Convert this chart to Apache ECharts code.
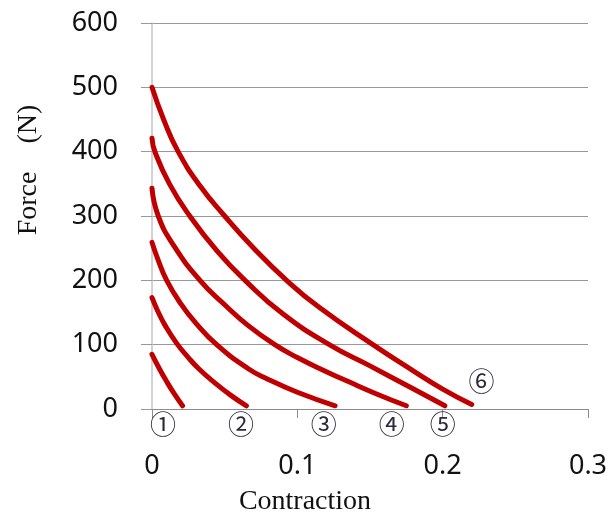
<!DOCTYPE html>
<html>
<head>
<meta charset="utf-8">
<script src="https://cdn.jsdelivr.net/npm/echarts@6/dist/echarts.min.js"></script>
<style>
  html, body { margin: 0; padding: 0; background: #fff; }
  #main { width: 616px; height: 515px; }
</style>
</head>
<body>
<div id="main"></div>
<script>
// contraction / force, one pair per curve
const c1 = [0, 0.005, 0.010, 0.0155, 0.021]
const f1 = [85, 63, 43, 23, 5]
const c2 = [0, 0.004, 0.009, 0.017, 0.025, 0.032, 0.043, 0.055, 0.065]
const f2 = [173, 152, 130, 102, 80, 63, 41, 20, 5]
const c3 = [0, 0.004, 0.0101, 0.02, 0.03, 0.0445, 0.066, 0.08, 0.1, 0.126]
const f3 = [259, 233, 200, 163, 134, 100, 63, 46, 26, 5]
const c4 = [0, 0.0043, 0.015, 0.033, 0.05, 0.066, 0.0845, 0.1, 0.12, 0.1347, 0.155, 0.175]
const f4 = [343, 300, 254, 200, 162, 130, 100, 80, 58, 43, 23, 5]
const c5 = [0, 0.002, 0.012, 0.026, 0.045, 0.064, 0.09, 0.122, 0.15, 0.18, 0.2015]
const f5 = [421, 400, 350, 300, 245, 200, 148, 100, 67, 31, 5]
const c6 = [0, 0.008, 0.018, 0.033, 0.05, 0.07, 0.0926, 0.115, 0.152, 0.18, 0.2, 0.22]
const f6 = [500, 450, 400, 347, 300, 250, 200, 158, 100, 59, 31, 7]

const curveNames = ['①', '②', '③', '④', '⑤', '⑥']
// where each circled number sits, in data units
const tagX = [0.0076, 0.0612, 0.1182, 0.165, 0.2, 0.2268]
const tagY = [-23, -23, -23, -23, -23, 43.5]

const xTicks = [0, 0.1, 0.2, 0.3]

const curves = [[c1, f1], [c2, f2], [c3, f3], [c4, f4], [c5, f5], [c6, f6]]

const chart = echarts.init(document.getElementById('main'))

const option = {
  animation: false,
  grid: { left: 152, right: 28, top: 23, bottom: 106, containLabel: false },
  xAxis: {
    type: 'value',
    min: 0,
    max: 0.3,
    interval: 0.1,
    axisLine: { show: true, lineStyle: { color: '#8c8c8c', width: 1 } },
    axisTick: { show: true, length: 9, lineStyle: { color: '#8c8c8c' } },
    splitLine: { show: false },
    axisLabel: {
      margin: 44,
      fontFamily: 'Noto Sans',
      fontSize: 27,
      color: '#111',
      formatter: function (v) {
        return xTicks.indexOf(+v.toFixed(1)) >= 0 ? String(+v.toFixed(1)) : ''
      }
    }
  },
  yAxis: {
    type: 'value',
    min: 0,
    max: 600,
    interval: 100,
    axisLine: { show: true, lineStyle: { color: '#c4c4c4', width: 1.5 } },
    axisTick: { show: true, length: 11, lineStyle: { color: '#999' } },
    splitLine: { show: true, lineStyle: { color: '#999', width: 1 } },
    axisLabel: {
      margin: 34,
      fontFamily: 'Noto Sans',
      fontSize: 27,
      color: '#111'
    }
  },
  series: curves.map(function (cv, i) {
    return {
      name: curveNames[i],
      type: 'line',
      smooth: true,
      symbol: 'none',
      lineStyle: { color: '#c00000', width: 5, cap: 'round' },
      data: cv[0].map(function (x, k) { return [x, cv[1][k]] }),
      z: 3
    }
  }),
  graphic: [
    {
      type: 'text',
      x: 305,
      y: 502,
      style: {
        text: 'Contraction',
        font: '28px "Liberation Serif", serif',
        fill: '#111',
        align: 'center',
        verticalAlign: 'middle'
      }
    },
    {
      type: 'text',
      x: 29,
      y: 170,
      rotation: Math.PI / 2,
      style: {
        text: 'Force\u3000(N)',
        font: '28px "Liberation Serif", serif',
        fill: '#111',
        align: 'center',
        verticalAlign: 'middle'
      }
    }
  ]
}

option && chart.setOption(option)

// circled curve numbers placed through the axis scales
const tags = curveNames.map(function (t, i) {
  const p = chart.convertToPixel({ gridIndex: 0 }, [tagX[i], tagY[i]])
  return {
    type: 'text',
    x: p[0],
    y: p[1],
    z: 10,
    style: {
      text: t,
      font: '26px "Noto Sans CJK KR", sans-serif',
      fill: '#2a2a3a',
      align: 'center',
      verticalAlign: 'middle'
    }
  }
})
chart.setOption({ graphic: option.graphic.concat(tags) })
</script>
</body>
</html>
